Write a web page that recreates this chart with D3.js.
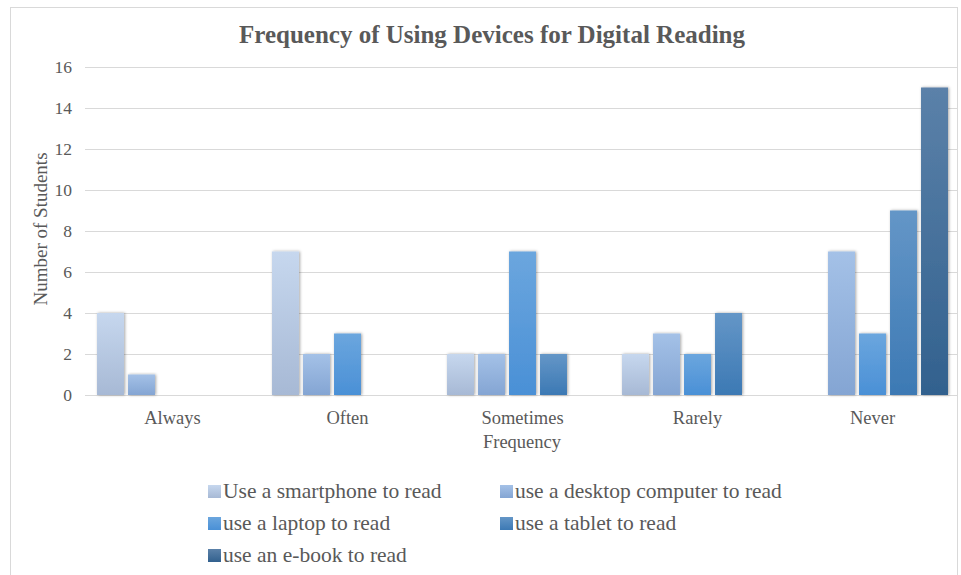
<!DOCTYPE html>
<html>
<head>
<meta charset="utf-8">
<script src="https://cdn.jsdelivr.net/npm/d3@7"></script>
<style>
  html, body { margin: 0; padding: 0; background: #fff; }
  svg { display: block; }
  svg text { font-family: "Liberation Serif", "Times New Roman", Times, "DejaVu Serif", serif; }
</style>
</head>
<body>
<svg id="chart" width="961" height="575"></svg>
<script>
// Frequency categories and survey counts per device
const categories = ["Always", "Often", "Sometimes", "Rarely", "Never"];
const seriesNames = [
  "Use a smartphone to read",
  "use a desktop computer to read",
  "use a laptop to read",
  "use a tablet to read",
  "use an e-book to read"
];
const smartphone = [4, 7, 2, 2, 0];
const desktop    = [1, 2, 2, 3, 7];
const laptop     = [0, 3, 7, 2, 3];
const tablet     = [0, 0, 2, 4, 9];
const ebook      = [0, 0, 0, 0, 15];
const yTicks = [0, 2, 4, 6, 8, 10, 12, 14, 16];

const seriesValues = [smartphone, desktop, laptop, tablet, ebook];
// gradient stops (top, bottom) for each series
const gradTop    = ["#c6d7ee", "#a4c1e7", "#6ba6de", "#6496c7", "#5b81a9"];
const gradBottom = ["#a7b9d5", "#84a5d3", "#4a90d6", "#3c79b4", "#32618e"];

const svg = d3.select("#chart");
const textColor = "#595959";

// chart frame
svg.append("rect")
  .attr("x", 10.5).attr("y", 7.5)
  .attr("width", 947).attr("height", 580)
  .attr("fill", "#fff").attr("stroke", "#d9d9d9").attr("stroke-width", 1);

const defs = svg.append("defs");
seriesNames.forEach((s, i) => {
  const g = defs.append("linearGradient")
    .attr("id", "grad" + i).attr("x1", 0).attr("y1", 0).attr("x2", 0).attr("y2", 1);
  g.append("stop").attr("offset", "0%").attr("stop-color", gradTop[i]);
  g.append("stop").attr("offset", "100%").attr("stop-color", gradBottom[i]);
});
const shadow = defs.append("filter").attr("id", "shadow")
  .attr("x", "-30%").attr("y", "-10%").attr("width", "160%").attr("height", "120%");
shadow.append("feDropShadow")
  .attr("dx", 1).attr("dy", 0).attr("stdDeviation", 1.4)
  .attr("flood-color", "#000").attr("flood-opacity", 0.35);

const x0 = d3.scaleBand()
  .domain(categories)
  .range([85, 960])
  .paddingInner(0).paddingOuter(0);

const x1 = d3.scaleBand()
  .domain(d3.range(seriesNames.length))
  .range([0, 155])
  .paddingInner(0.13).paddingOuter(0.065);

const y = d3.scaleLinear().domain([0, 16]).range([395, 67]);

// title
svg.append("text")
  .attr("x", 492).attr("y", 43)
  .attr("text-anchor", "middle")
  .attr("font-size", 25).attr("font-weight", "bold")
  .attr("fill", textColor)
  .text("Frequency of Using Devices for Digital Reading");

// gridlines
svg.append("g")
  .selectAll("line")
  .data(yTicks)
  .join("line")
  .attr("x1", 85).attr("x2", 958)
  .attr("y1", d => Math.round(y(d)) + 0.5).attr("y2", d => Math.round(y(d)) + 0.5)
  .attr("stroke", "#d9d9d9").attr("stroke-width", 1);

// y axis labels
const yAxis = d3.axisLeft(y).tickValues(yTicks).tickSize(0).tickPadding(0);
const yg = svg.append("g").attr("transform", "translate(72,0)").call(yAxis)
  .attr("font-family", null).attr("font-size", null);
yg.select(".domain").remove();
yg.selectAll("text")
  .attr("font-size", 17.5).attr("fill", textColor);

// bars
const groups = svg.append("g")
  .selectAll("g")
  .data(categories)
  .join("g")
  .attr("transform", c => `translate(${x0(c) + (x0.bandwidth() - 155) / 2},0)`);

groups.selectAll("rect")
  .data((c, ci) => seriesValues.map((vals, si) => ({ si, v: vals[ci] })).filter(d => d.v > 0))
  .join("rect")
  .attr("x", d => x1(d.si))
  .attr("y", d => y(d.v))
  .attr("width", x1.bandwidth())
  .attr("height", d => y(0) - y(d.v))
  .attr("fill", d => `url(#grad${d.si})`)
  .attr("filter", "url(#shadow)");

// x axis category labels
const xAxis = d3.axisBottom(x0).tickSize(0).tickPadding(0);
const xg = svg.append("g").attr("transform", "translate(0,424)").call(xAxis)
  .attr("font-family", null).attr("font-size", null);
xg.select(".domain").remove();
xg.selectAll("text")
  .attr("y", 0).attr("dy", 0)
  .attr("font-size", 18.5).attr("fill", textColor);

// axis titles
svg.append("text")
  .attr("x", 522).attr("y", 448)
  .attr("text-anchor", "middle")
  .attr("font-size", 18.5).attr("fill", textColor)
  .text("Frequency");

svg.append("text")
  .attr("transform", "translate(47,229) rotate(-90)")
  .attr("text-anchor", "middle")
  .attr("font-size", 19).attr("fill", textColor)
  .text("Number of Students");

// legend
const legendPos = [[208, 485], [500, 485], [208, 517], [500, 517], [208, 549]];
const legend = svg.append("g")
  .selectAll("g")
  .data(seriesNames)
  .join("g")
  .attr("transform", (d, i) => `translate(${legendPos[i][0]},${legendPos[i][1]})`);
legend.append("rect")
  .attr("x", 0).attr("y", 0).attr("width", 13).attr("height", 13)
  .attr("fill", (d, i) => `url(#grad${i})`);
legend.append("text")
  .attr("x", 15).attr("y", 13)
  .attr("font-size", 21.5).attr("fill", textColor)
  .text(d => d);
</script>
</body>
</html>
